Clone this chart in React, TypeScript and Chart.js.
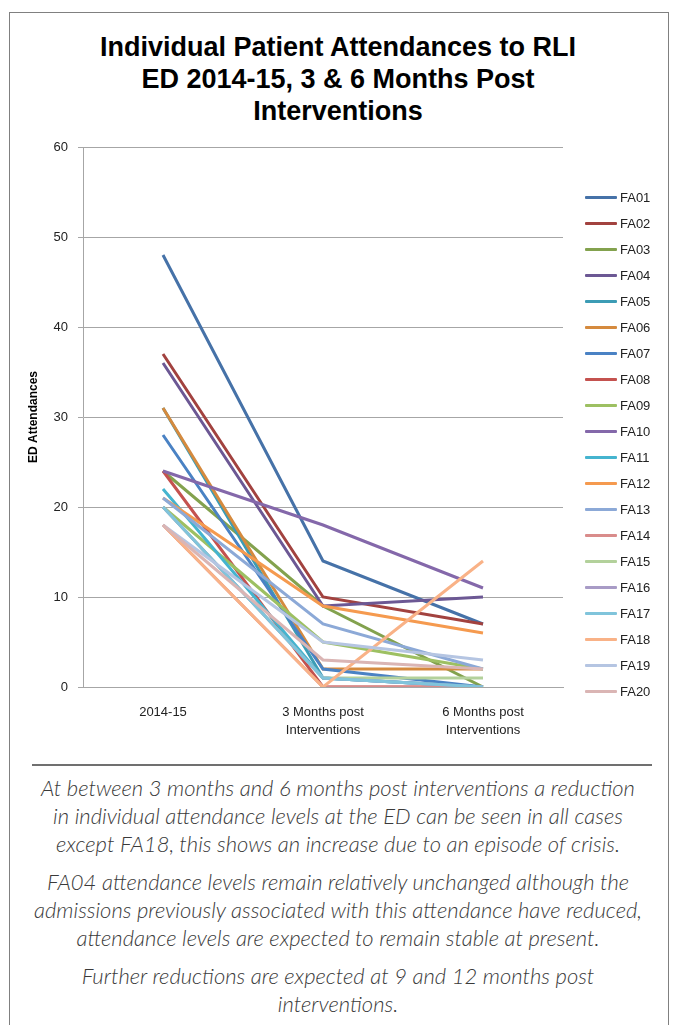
import React, { useEffect, useRef } from "react";
import { Chart, registerables } from "chart.js";

Chart.register(...registerables);

const categories: (string | string[])[] = ["2014-15", ["3 Months post", "Interventions"], ["6 Months post", "Interventions"]];

const seriesNames = ["FA01","FA02","FA03","FA04","FA05","FA06","FA07","FA08","FA09","FA10","FA11","FA12","FA13","FA14","FA15","FA16","FA17","FA18","FA19","FA20"];

const FA01 = [48, 14, 7];
const FA02 = [37, 10, 7];
const FA03 = [24, 9, 0];
const FA04 = [36, 9, 10];
const FA05 = [31, 1, 0];
const FA06 = [31, 2, 2];
const FA07 = [28, 2, 0];
const FA08 = [24, 0, 0];
const FA09 = [20, 5, 2];
const FA10 = [24, 18, 11];
const FA11 = [22, 1, 0];
const FA12 = [21, 9, 6];
const FA13 = [21, 7, 2];
const FA14 = [18, 0, 0];
const FA15 = [20, 1, 1];
const FA16 = [20, 1, 0];
const FA17 = [20, 1, 0];
const FA18 = [18, 0, 14];
const FA19 = [18, 5, 3];
const FA20 = [18, 3, 2];

const seriesValues = [FA01, FA02, FA03, FA04, FA05, FA06, FA07, FA08, FA09, FA10, FA11, FA12, FA13, FA14, FA15, FA16, FA17, FA18, FA19, FA20];

const seriesColors = [
  "#4672A8", "#A2423F", "#83A24E", "#6C5894", "#3C9CB5", "#D58A3E",
  "#4A82C4", "#C4524F", "#9DC062", "#8468AA", "#45B4CF", "#F59A4F",
  "#8CA9D7", "#D98C8B", "#B3D19B", "#A89BC6", "#80C4DB", "#F9B287",
  "#B5C5E2", "#DAB5B4",
];

const yTicks = [0, 10, 20, 30, 40, 50, 60];

const titleLines = ["Individual Patient Attendances to RLI", "ED 2014-15, 3 & 6 Months Post", "Interventions"];

const paragraphs = [
  ["At between 3 months and 6 months post interventions a reduction", "in individual attendance levels at the ED can be seen in all cases", "except FA18, this shows an increase due to an episode of crisis."],
  ["FA04 attendance levels remain relatively unchanged although the", "admissions previously associated with this attendance have reduced,", "attendance levels are expected to remain stable at present."],
  ["Further reductions are expected at 9 and 12 months post", "interventions."],
];

const sansFont = "'Liberation Sans', Arial, sans-serif";

export default function App() {
  const canvasRef = useRef<HTMLCanvasElement | null>(null);

  useEffect(() => {
    const canvas = canvasRef.current;
    if (!canvas) return;
    const chart = new Chart(canvas, {
      type: "line",
      data: {
        labels: categories,
        datasets: seriesValues.map((vals, i) => ({
          label: seriesNames[i],
          data: vals,
          borderColor: seriesColors[i],
          backgroundColor: seriesColors[i],
          borderWidth: 3,
          pointRadius: 0,
          tension: 0,
          fill: false,
          order: seriesValues.length - i,
        })),
      },
      options: {
        animation: false,
        responsive: false,
        maintainAspectRatio: false,
        layout: { padding: { left: 0, right: 113, top: 147, bottom: 0 } },
        plugins: {
          legend: { display: false },
          tooltip: { enabled: false },
          title: { display: false },
        },
        scales: {
          x: {
            offset: true,
            grid: { display: false, drawTicks: false },
            border: { display: true, color: "#a6a6a6", width: 1 },
            ticks: {
              color: "#222",
              padding: 16,
              maxRotation: 0,
              autoSkip: false,
              font: { family: sansFont, size: 13, lineHeight: 1.4 },
            },
            afterFit: (scale: any) => { scale.height = 60; },
          },
          y: {
            min: 0,
            max: 60,
            afterBuildTicks: (scale: any) => { scale.ticks = yTicks.map((v) => ({ value: v })); },
            grid: { color: "#a6a6a6", lineWidth: 1, tickLength: 5, drawTicks: true },
            border: { display: true, color: "#a6a6a6", width: 1 },
            ticks: {
              color: "#222",
              padding: 10,
              font: { family: sansFont, size: 13 },
            },
            title: {
              display: true,
              text: "ED Attendances",
              color: "#000",
              font: { family: sansFont, size: 12, weight: "bold" },
              padding: { top: 26, bottom: 0 },
            },
            afterFit: (scale: any) => { scale.width = 83; },
          },
        },
      },
    });
    return () => chart.destroy();
  }, []);

  return (
    <div style={{ position: "absolute", left: 0, top: 0, width: 676, height: 1025, background: "#fff", overflow: "hidden" }}>
      <div style={{ position: "absolute", left: 9, top: 12, width: 660, height: 1030, border: "1px solid #808080", boxSizing: "border-box" }} />
      <div style={{ position: "absolute", left: 0, top: 31, width: 676, textAlign: "center", fontFamily: "'Liberation Sans Narrow', 'Liberation Sans', Arial, sans-serif", fontWeight: "bold", fontSize: 27, lineHeight: "32px", color: "#000" }}>
        {titleLines.map((t, i) => <div key={i}>{t}</div>)}
      </div>
      <canvas ref={canvasRef} width={676} height={747} style={{ position: "absolute", left: 0, top: 0, width: 676, height: 747 }} />
      <div style={{ position: "absolute", left: 0, top: 0 }}>
        {seriesNames.map((name, i) => (
          <div key={name} style={{ position: "absolute", left: 585, top: 197 + 26 * i - 9, height: 18, display: "flex", alignItems: "center", whiteSpace: "nowrap" }}>
            <div style={{ width: 32, height: 3, background: seriesColors[i], borderRadius: 1 }} />
            <span style={{ marginLeft: 3, fontFamily: sansFont, fontSize: 13, color: "#222" }}>{name}</span>
          </div>
        ))}
      </div>
      <div style={{ position: "absolute", left: 32, top: 764, width: 620, height: 2, background: "#707070" }} />
      <div style={{ position: "absolute", left: 0, top: 774, width: 676, textAlign: "center", fontFamily: "Lato, 'Open Sans', sans-serif", fontStyle: "italic", fontWeight: 300, fontSize: 22, color: "#3a3a3a" }}>
        {paragraphs.map((p, i) => (
          <div key={i} style={{ marginBottom: 10, lineHeight: "28px" }}>
            {p.map((l, j) => <div key={j}>{l}</div>)}
          </div>
        ))}
      </div>
    </div>
  );
}
